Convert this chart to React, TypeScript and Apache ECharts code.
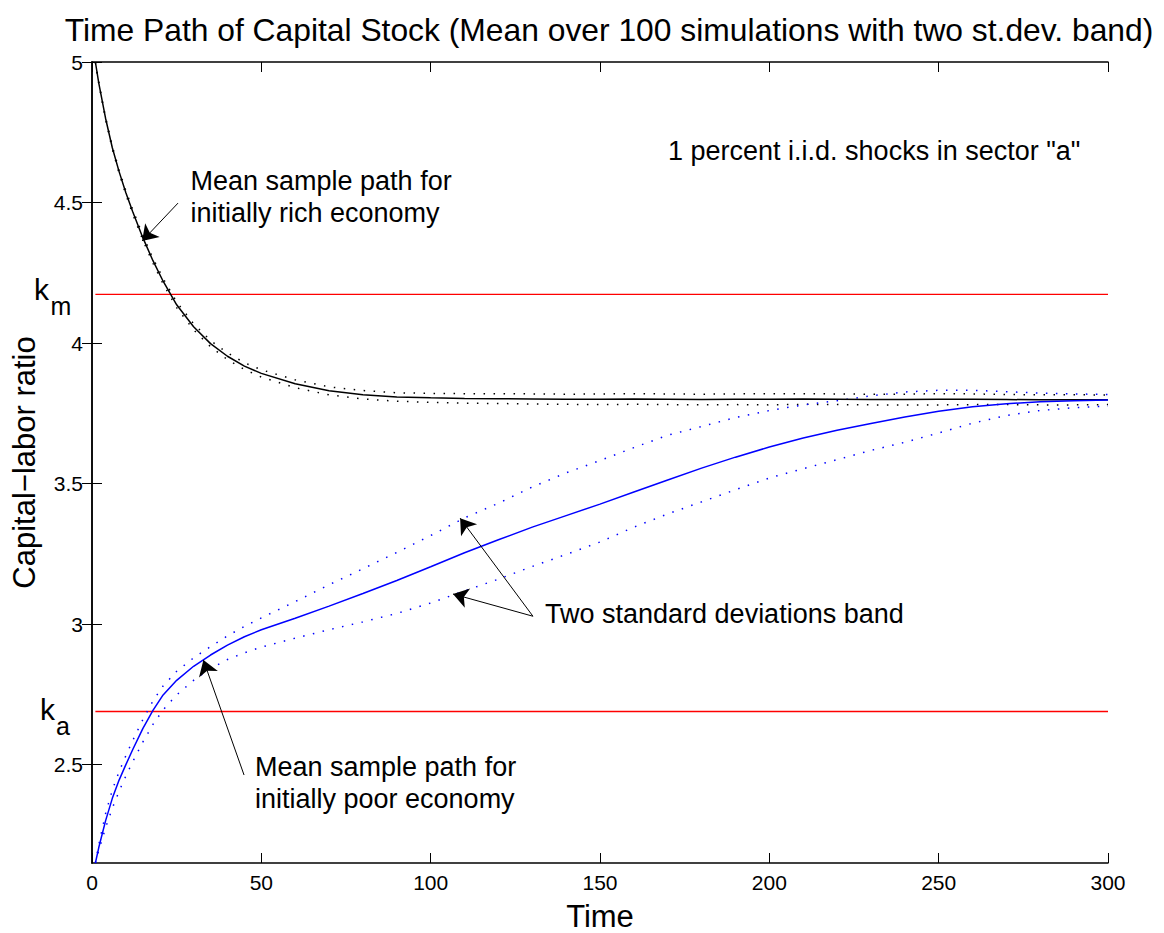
import { useEffect, useRef } from 'react';
import * as echarts from 'echarts';

const TITLE = 'Time Path of Capital Stock (Mean over 100 simulations with two st.dev. band)';
const X_NAME = 'Time';
const Y_NAME = 'Capital\u2212labor ratio';

const TIME = [1, 2, 4, 6, 8, 10, 12, 15, 18, 21, 25, 30, 35, 40, 45, 50, 60, 70, 80, 90, 100, 110, 120, 130, 140, 150, 160, 170, 180, 190, 200, 210, 220, 230, 240, 250, 260, 270, 280, 290, 300];

const RICH_MEAN = [5.0, 4.925, 4.8, 4.695, 4.61, 4.535, 4.468, 4.375, 4.293, 4.22, 4.136, 4.058, 3.998, 3.953, 3.918, 3.892, 3.855, 3.83, 3.816, 3.808, 3.805, 3.803, 3.802, 3.801, 3.8, 3.8, 3.801, 3.8, 3.799, 3.8, 3.8, 3.801, 3.8, 3.799, 3.799, 3.8, 3.8, 3.799, 3.798, 3.798, 3.798];
const RICH_UPPER = [5.0, 4.927, 4.804, 4.7, 4.616, 4.542, 4.476, 4.383, 4.302, 4.23, 4.146, 4.069, 4.009, 3.965, 3.93, 3.905, 3.869, 3.844, 3.831, 3.823, 3.821, 3.82, 3.82, 3.819, 3.818, 3.819, 3.82, 3.819, 3.818, 3.819, 3.82, 3.82, 3.819, 3.818, 3.818, 3.82, 3.819, 3.817, 3.816, 3.816, 3.815];
const RICH_LOWER = [5.0, 4.923, 4.796, 4.69, 4.604, 4.528, 4.46, 4.367, 4.284, 4.21, 4.126, 4.047, 3.987, 3.941, 3.906, 3.879, 3.841, 3.816, 3.801, 3.793, 3.789, 3.786, 3.785, 3.783, 3.782, 3.781, 3.782, 3.781, 3.78, 3.781, 3.78, 3.782, 3.781, 3.78, 3.78, 3.78, 3.781, 3.781, 3.78, 3.78, 3.781];

const POOR_MEAN = [2.15, 2.205, 2.3, 2.38, 2.445, 2.5, 2.553, 2.628, 2.693, 2.748, 2.8, 2.85, 2.89, 2.925, 2.955, 2.98, 3.021, 3.064, 3.109, 3.155, 3.204, 3.254, 3.3, 3.345, 3.386, 3.427, 3.47, 3.513, 3.555, 3.594, 3.63, 3.662, 3.69, 3.714, 3.737, 3.757, 3.773, 3.784, 3.791, 3.795, 3.797];
const POOR_UPPER = [2.15, 2.215, 2.325, 2.41, 2.475, 2.532, 2.585, 2.66, 2.727, 2.78, 2.832, 2.88, 2.92, 2.958, 2.992, 3.022, 3.08, 3.14, 3.197, 3.255, 3.315, 3.378, 3.43, 3.488, 3.538, 3.582, 3.628, 3.672, 3.703, 3.735, 3.76, 3.78, 3.795, 3.812, 3.826, 3.832, 3.832, 3.827, 3.822, 3.819, 3.817];
const POOR_LOWER = [2.15, 2.195, 2.275, 2.345, 2.405, 2.46, 2.51, 2.58, 2.643, 2.695, 2.748, 2.8, 2.842, 2.874, 2.898, 2.918, 2.95, 2.98, 3.008, 3.038, 3.075, 3.118, 3.16, 3.205, 3.248, 3.292, 3.345, 3.392, 3.435, 3.478, 3.52, 3.553, 3.585, 3.618, 3.647, 3.68, 3.715, 3.742, 3.76, 3.77, 3.776];

const K_M = 4.173;
const K_A = 2.689;
const REF_T = [1, 300];

const X_TICKS = [0, 50, 100, 150, 200, 250, 300];
const Y_TICKS = [2.5, 3, 3.5, 4, 4.5, 5];
const Y_MIN = 2.15;
const Y_MAX = 5;

// arrows: [from, to] in data coordinates
const ARROWS = [
  [[25.4, 4.498], [14.8, 4.363]],
  [[130.2, 3.028], [108.7, 3.377]],
  [[130.2, 3.028], [106.6, 3.107]],
  [[44.9, 2.463], [32.9, 2.872]],
];

const FONT = "'Liberation Sans', Arial, Helvetica, sans-serif";

function txt(text: string, x: number, y: number, size: number) {
  return {
    type: 'text',
    x,
    y,
    silent: true,
    style: {
      text,
      fill: '#000',
      fontSize: size,
      fontFamily: FONT,
      textAlign: 'left',
      align: 'left',
      textVerticalAlign: 'middle',
      verticalAlign: 'middle',
    },
  };
}

export default function App() {
  const ref = useRef<HTMLDivElement>(null);
  useEffect(() => {
    const chart = echarts.init(ref.current!, null, { renderer: 'svg' });
    const pair = (ys: number[]) => TIME.map((t, i) => [t, ys[i]]);
    const axisLine = { show: true, lineStyle: { color: '#000', width: 1.5 } };
    const lineSeries = (data: number[][], color: string, dotted: boolean, width: number) => ({
      type: 'line',
      data,
      symbol: 'none',
      silent: true,
      smooth: false,
      color,
      lineStyle: { color, width, type: dotted ? [1.5, 8.5] : 'solid' },
      z: dotted ? 2 : 3,
    });
    const option = {
      animation: false,
      backgroundColor: '#ffffff',
      textStyle: { fontFamily: FONT },
      title: {
        text: TITLE,
        left: 609,
        top: 30,
        padding: 0,
        textAlign: 'center',
        textVerticalAlign: 'middle',
        textStyle: { fontSize: 31.8, fontWeight: 'normal', color: '#000', fontFamily: FONT },
      },
      grid: { left: 92, right: 56, top: 62, bottom: 70, containLabel: false, outerBoundsMode: 'none' },
      xAxis: [
        {
          type: 'value',
          min: 0,
          max: 300,
          interval: 50,
          position: 'bottom',
          name: X_NAME,
          nameLocation: 'middle',
          nameGap: 38,
          nameTextStyle: { fontSize: 31, color: '#000', fontFamily: FONT },
          axisLine,
          axisTick: { show: true, inside: true, length: 10, lineStyle: { color: '#000', width: 1 }, customValues: X_TICKS },
          axisLabel: { show: true, margin: 9, fontSize: 21, color: '#000', fontFamily: FONT, customValues: X_TICKS },
          splitLine: { show: false },
        },
        {
          type: 'value',
          min: 0,
          max: 300,
          interval: 50,
          position: 'top',
          axisLine,
          axisTick: { show: true, inside: true, length: 10, lineStyle: { color: '#000', width: 1 }, customValues: X_TICKS },
          axisLabel: { show: false },
          splitLine: { show: false },
        },
      ],
      yAxis: [
        {
          type: 'value',
          min: Y_MIN,
          max: Y_MAX,
          position: 'left',
          name: Y_NAME,
          nameLocation: 'middle',
          nameGap: 52,
          nameRotate: 90,
          nameTextStyle: { fontSize: 31, color: '#000', fontFamily: FONT },
          axisLine,
          axisTick: { show: true, inside: true, length: 10, lineStyle: { color: '#000', width: 1 }, customValues: Y_TICKS },
          axisLabel: { show: true, margin: 9, fontSize: 21, color: '#000', fontFamily: FONT, customValues: Y_TICKS },
          splitLine: { show: false },
        },
        {
          type: 'value',
          min: Y_MIN,
          max: Y_MAX,
          position: 'right',
          axisLine,
          axisTick: { show: true, inside: true, length: 10, lineStyle: { color: '#000', width: 1 }, customValues: Y_TICKS },
          axisLabel: { show: false },
          splitLine: { show: false },
        },
      ],
      series: [
        {
          type: 'line',
          data: REF_T.map((t) => [t, K_M]),
          symbol: 'none',
          silent: true,
          color: '#ff0000',
          lineStyle: { color: '#ff0000', width: 1.3 },
          z: 1,
        },
        {
          type: 'line',
          data: REF_T.map((t) => [t, K_A]),
          symbol: 'none',
          silent: true,
          color: '#ff0000',
          lineStyle: { color: '#ff0000', width: 1.3 },
          z: 1,
        },
        lineSeries(pair(RICH_UPPER), '#000000', true, 1.5),
        lineSeries(pair(RICH_LOWER), '#000000', true, 1.5),
        lineSeries(pair(RICH_MEAN), '#000000', false, 1.5),
        lineSeries(pair(POOR_UPPER), '#0000ff', true, 1.5),
        lineSeries(pair(POOR_LOWER), '#0000ff', true, 1.5),
        lineSeries(pair(POOR_MEAN), '#0000ff', false, 1.5),
        {
          type: 'lines',
          coordinateSystem: 'cartesian2d',
          xAxisIndex: 0,
          yAxisIndex: 0,
          silent: true,
          symbol: ['none', 'arrow'],
          symbolSize: 15,
          lineStyle: { color: '#000', width: 1, opacity: 1, curveness: 0 },
          data: ARROWS.map((a) => ({ coords: a })),
          z: 5,
        },
      ],
      graphic: [
        txt('Mean sample path for', 190.5, 180.6, 27),
        txt('initially rich economy', 190.5, 212.6, 27),
        txt('1 percent i.i.d. shocks in sector "a"', 668, 151, 27),
        txt('Two standard deviations band', 545, 614, 27),
        txt('Mean sample path for', 255, 766.6, 27),
        txt('initially poor economy', 255, 798.6, 27),
        txt('k', 34, 289.6, 30),
        txt('m', 50.5, 306.3, 25),
        txt('k', 40, 709.6, 30),
        txt('a', 56, 726.3, 25),
      ],
    };
    chart.setOption(option as any);
    return () => chart.dispose();
  }, []);
  return <div ref={ref} style={{ position: 'absolute', left: 0, top: 0, width: 1164, height: 933 }} />;
}
